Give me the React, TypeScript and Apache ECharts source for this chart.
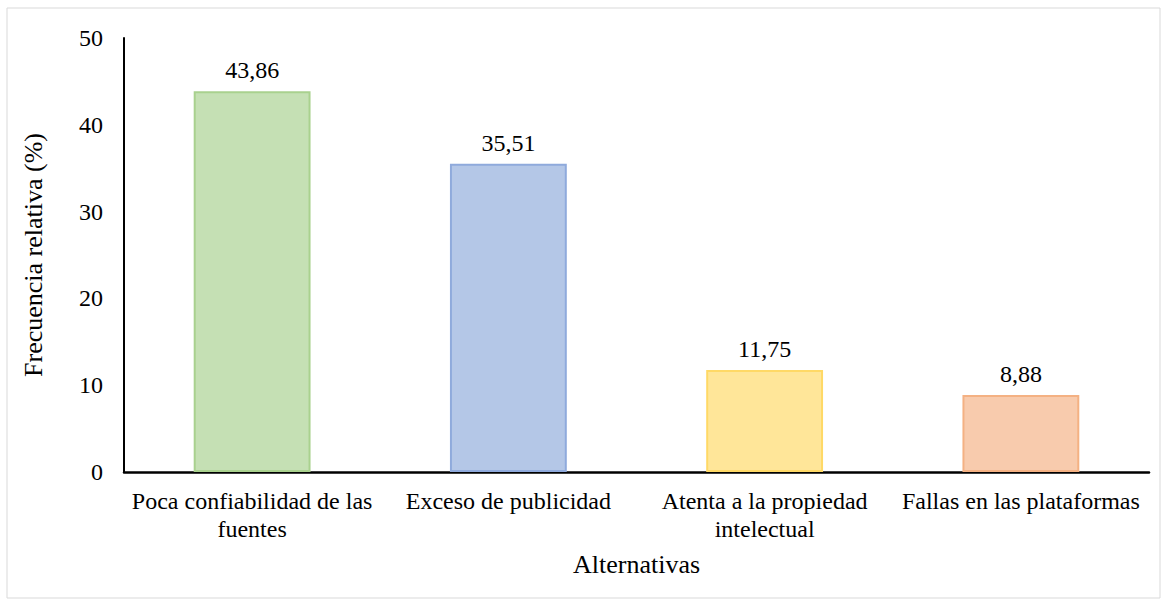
import React, { useEffect, useRef } from "react";
import * as echarts from "echarts";

const categories = [
  "Poca confiabilidad de las\nfuentes",
  "Exceso de publicidad",
  "Atenta a la propiedad\nintelectual",
  "Fallas en las plataformas",
];
const values = [43.86, 35.51, 11.75, 8.88];
const fillColors = ["#c5e0b4", "#b4c7e7", "#ffe699", "#f8cbad"];
const borderColors = ["#a9d18e", "#8faadc", "#ffd966", "#f4b183"];
const yTicks = { min: 0, max: 50, interval: 10 };

const FONT = "'Liberation Serif', 'Times New Roman', serif";

export default function App() {
  const ref = useRef<HTMLDivElement>(null);
  useEffect(() => {
    if (!ref.current) return;
    const chart = echarts.init(ref.current, null, { renderer: "svg" });
    chart.setOption({
      animation: false,
      backgroundColor: "#ffffff",
      textStyle: { fontFamily: FONT },
      graphic: [
        {
          type: "rect",
          shape: { x: 7, y: 8, width: 1153, height: 590 },
          style: { fill: "none", stroke: "#d9d9d9", lineWidth: 1 },
          silent: true,
        },
      ],
      grid: { left: 124, right: 19, top: 38, bottom: 133 },
      xAxis: {
        type: "category",
        data: categories,
        name: "Alternativas",
        nameLocation: "middle",
        nameGap: 79,
        nameTextStyle: { fontFamily: FONT, fontSize: 26, color: "#000", verticalAlign: "top" },
        axisLine: { lineStyle: { color: "#000", width: 2.5 } },
        axisTick: { show: false },
        axisLabel: {
          interval: 0,
          margin: 15,
          fontFamily: FONT,
          fontSize: 24,
          color: "#000",
          lineHeight: 28,
        },
      },
      yAxis: {
        type: "value",
        min: yTicks.min,
        max: yTicks.max,
        interval: yTicks.interval,
        name: "Frecuencia relativa (%)",
        nameLocation: "middle",
        nameGap: 78,
        nameTextStyle: { fontFamily: FONT, fontSize: 26, color: "#000" },
        axisLine: { show: true, lineStyle: { color: "#000", width: 2 } },
        axisTick: { show: false },
        splitLine: { show: false },
        axisLabel: { margin: 21, fontFamily: FONT, fontSize: 24, color: "#000" },
      },
      series: [
        {
          type: "bar",
          barWidth: "45.6%",
          data: values.map((v, i) => ({
            value: v,
            itemStyle: { color: fillColors[i], borderColor: borderColors[i], borderWidth: 2 },
          })),
          label: {
            show: true,
            position: "top",
            distance: 9,
            fontFamily: FONT,
            fontSize: 24,
            color: "#000",
            formatter: (p: any) => p.value.toFixed(2).replace(".", ","),
          },
        },
      ],
    });
    return () => chart.dispose();
  }, []);
  return <div ref={ref} style={{ width: 1168, height: 605, position: "absolute", left: 0, top: 0 }} />;
}
